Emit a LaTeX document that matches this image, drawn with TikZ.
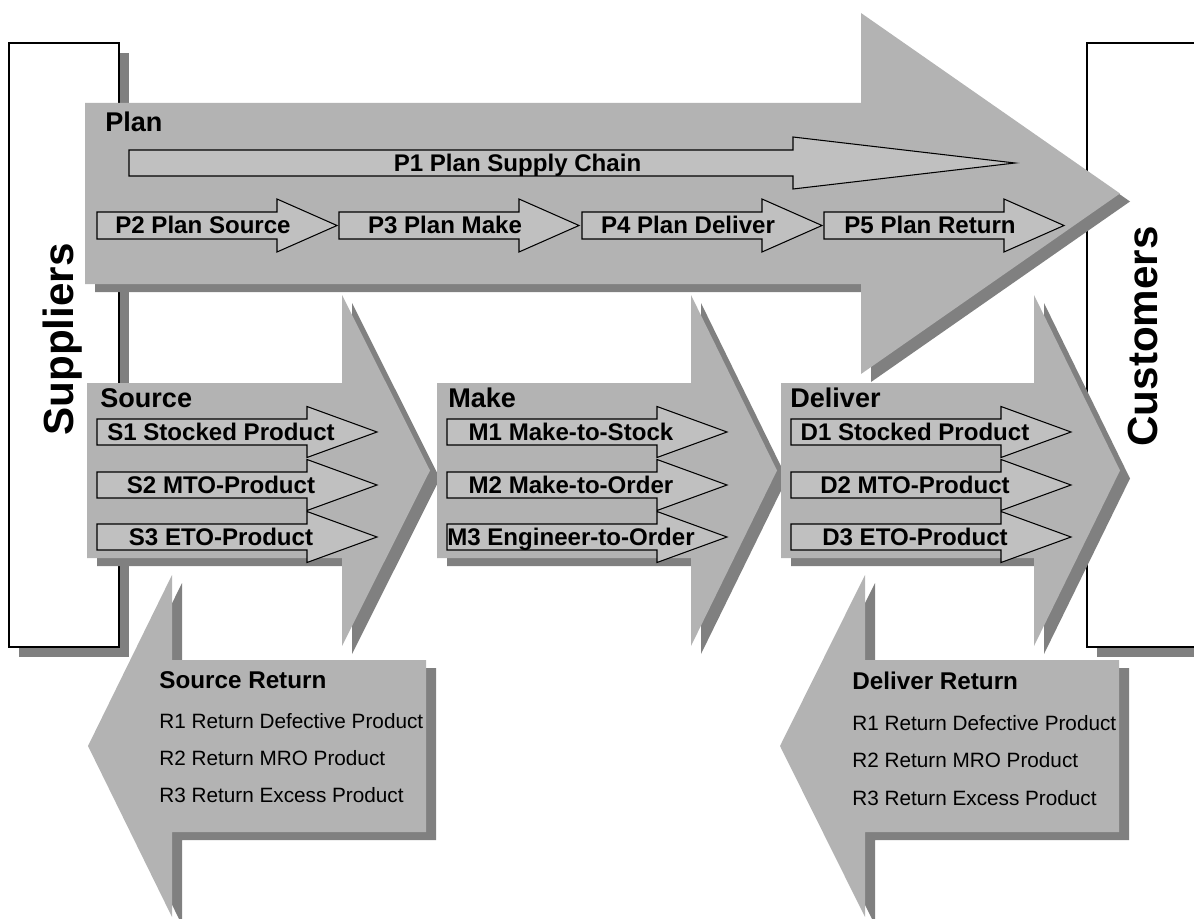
\documentclass[tikz,border=0pt]{standalone}
\usepackage{fontspec}
\setmainfont{Liberation Sans}
\usepackage{tikz}

\definecolor{bigfill}{RGB}{179,179,179}
\definecolor{shadowgray}{RGB}{128,128,128}
\definecolor{stepfill}{RGB}{192,192,192}

\begin{document}
\begin{tikzpicture}[x=0.02cm, y=-0.02cm,
    mainarrow/.style={fill=bigfill},
    dropshadow/.style={fill=shadowgray, shift={(10,8)}},
    subarrow/.style={draw, fill=stepfill, line width=0.6pt},
    sublabel/.style={font=\bfseries\fontsize{13.7}{16}\selectfont, anchor=base},
    grouptitle/.style={font=\bfseries\fontsize{15.4}{18}\selectfont, anchor=base west, inner sep=0pt},
    rettitle/.style={font=\bfseries\fontsize{13.8}{16}\selectfont, anchor=base west, inner sep=0pt},
    retitem/.style={font=\fontsize{11.8}{14}\selectfont, anchor=base west, inner sep=0pt},
    partner/.style={font=\bfseries\fontsize{24}{28}\selectfont, rotate=90, anchor=base}]
\useasboundingbox (0,0) rectangle (1194,919);
\clip (0,0) rectangle (1194,919);

% suppliers and customers
\fill[shadowgray] (19,53) rectangle (129,657);
\draw[fill=white, line width=0.6pt] (9,43) rectangle (119,647);
\fill[shadowgray] (1097,53) rectangle (1220,657);
\draw[fill=white, line width=0.6pt] (1087,43) rectangle (1210,647);
\node at (73,339.5) [partner] (suppliers) {Suppliers};
\node at (1157,336.5) [partner] (customers) {Customers};

% plan
\path[dropshadow] (85,103) -- (861,103) -- (861,13) -- (1120,193.5) -- (861,374) -- (861,284) -- (85,284) -- cycle;
\path[mainarrow] (85,103) -- (861,103) -- (861,13) -- (1120,193.5) -- (861,374) -- (861,284) -- (85,284) -- cycle;
\node at (105,132) [grouptitle] (plan) {Plan};
\draw[subarrow] (129,150) -- (793,150) -- (793,137) -- (1015,163) -- (793,189) -- (793,176) -- (129,176) -- cycle;
\node at (517.5,171.5) [sublabel] (p1) {P1 Plan Supply Chain};
\draw[subarrow] (97,212) -- ++(180,0) -- ++(0,-13) -- ++(60,26.5) -- ++(-60,26.5) -- ++(0,-13) -- ++(-180,0) -- cycle;
\node at (203,234) [sublabel] (p2) {P2 Plan Source};
\draw[subarrow] (339,212) -- ++(180,0) -- ++(0,-13) -- ++(60,26.5) -- ++(-60,26.5) -- ++(0,-13) -- ++(-180,0) -- cycle;
\node at (445,234) [sublabel] (p3) {P3 Plan Make};
\draw[subarrow] (582,212) -- ++(180,0) -- ++(0,-13) -- ++(60,26.5) -- ++(-60,26.5) -- ++(0,-13) -- ++(-180,0) -- cycle;
\node at (688,234) [sublabel] (p4) {P4 Plan Deliver};
\draw[subarrow] (824,212) -- ++(180,0) -- ++(0,-13) -- ++(60,26.5) -- ++(-60,26.5) -- ++(0,-13) -- ++(-180,0) -- cycle;
\node at (930,234) [sublabel] (p5) {P5 Plan Return};

% source
\path[dropshadow] (87,383) -- (342,383) -- (342,295) -- (430,470.5) -- (342,646) -- (342,558) -- (87,558) -- cycle;
\path[mainarrow] (87,383) -- (342,383) -- (342,295) -- (430,470.5) -- (342,646) -- (342,558) -- (87,558) -- cycle;
\node at (100,407) [grouptitle] (source) {Source};
\draw[subarrow] (97,419) -- ++(210,0) -- ++(0,-12.5) -- ++(70,25.5) -- ++(-70,25.5) -- ++(0,-12.5) -- ++(-210,0) -- cycle;
\node at (221,440.5) [sublabel] (s1) {S1 Stocked Product};
\draw[subarrow] (97,472) -- ++(210,0) -- ++(0,-12.5) -- ++(70,25.5) -- ++(-70,25.5) -- ++(0,-12.5) -- ++(-210,0) -- cycle;
\node at (221,493.5) [sublabel] (s2) {S2 MTO-Product};
\draw[subarrow] (97,524) -- ++(210,0) -- ++(0,-12.5) -- ++(70,25.5) -- ++(-70,25.5) -- ++(0,-12.5) -- ++(-210,0) -- cycle;
\node at (221,545.5) [sublabel] (s3) {S3 ETO-Product};

% make
\path[dropshadow] (437,383) -- (691,383) -- (691,295) -- (777,470.5) -- (691,646) -- (691,558) -- (437,558) -- cycle;
\path[mainarrow] (437,383) -- (691,383) -- (691,295) -- (777,470.5) -- (691,646) -- (691,558) -- (437,558) -- cycle;
\node at (448,407) [grouptitle] (make) {Make};
\draw[subarrow] (447,419) -- ++(210,0) -- ++(0,-12.5) -- ++(70,25.5) -- ++(-70,25.5) -- ++(0,-12.5) -- ++(-210,0) -- cycle;
\node at (571,440.5) [sublabel] (m1) {M1 Make-to-Stock};
\draw[subarrow] (447,472) -- ++(210,0) -- ++(0,-12.5) -- ++(70,25.5) -- ++(-70,25.5) -- ++(0,-12.5) -- ++(-210,0) -- cycle;
\node at (571,493.5) [sublabel] (m2) {M2 Make-to-Order};
\draw[subarrow] (447,524) -- ++(210,0) -- ++(0,-12.5) -- ++(70,25.5) -- ++(-70,25.5) -- ++(0,-12.5) -- ++(-210,0) -- cycle;
\node at (571,545.5) [sublabel] (m3) {M3 Engineer-to-Order};

% deliver
\path[dropshadow] (781,383) -- (1034,383) -- (1034,295) -- (1120,470.5) -- (1034,646) -- (1034,558) -- (781,558) -- cycle;
\path[mainarrow] (781,383) -- (1034,383) -- (1034,295) -- (1120,470.5) -- (1034,646) -- (1034,558) -- (781,558) -- cycle;
\node at (790,407) [grouptitle] (deliver) {Deliver};
\draw[subarrow] (791,419) -- ++(210,0) -- ++(0,-12.5) -- ++(70,25.5) -- ++(-70,25.5) -- ++(0,-12.5) -- ++(-210,0) -- cycle;
\node at (915,440.5) [sublabel] (d1) {D1 Stocked Product};
\draw[subarrow] (791,472) -- ++(210,0) -- ++(0,-12.5) -- ++(70,25.5) -- ++(-70,25.5) -- ++(0,-12.5) -- ++(-210,0) -- cycle;
\node at (915,493.5) [sublabel] (d2) {D2 MTO-Product};
\draw[subarrow] (791,524) -- ++(210,0) -- ++(0,-12.5) -- ++(70,25.5) -- ++(-70,25.5) -- ++(0,-12.5) -- ++(-210,0) -- cycle;
\node at (915,545.5) [sublabel] (d3) {D3 ETO-Product};

% returns
\path[dropshadow] (426,660) -- (172,660) -- (172,575) -- (88,746) -- (172,917) -- (172,832) -- (426,832) -- cycle;
\path[mainarrow] (426,660) -- (172,660) -- (172,575) -- (88,746) -- (172,917) -- (172,832) -- (426,832) -- cycle;
\node at (159,688) [rettitle] (srcret) {Source Return};
\node at (159,728) [retitem] (sr1) {R1 Return Defective Product};
\node at (159,765) [retitem] (sr2) {R2 Return MRO Product};
\node at (159,802) [retitem] (sr3) {R3 Return Excess Product};
\path[dropshadow] (1119,660) -- (865,660) -- (865,575) -- (780,746) -- (865,917) -- (865,832) -- (1119,832) -- cycle;
\path[mainarrow] (1119,660) -- (865,660) -- (865,575) -- (780,746) -- (865,917) -- (865,832) -- (1119,832) -- cycle;
\node at (852,689) [rettitle] (delret) {Deliver Return};
\node at (852,730) [retitem] (dr1) {R1 Return Defective Product};
\node at (852,767) [retitem] (dr2) {R2 Return MRO Product};
\node at (852,805) [retitem] (dr3) {R3 Return Excess Product};
\end{tikzpicture}
\end{document}
